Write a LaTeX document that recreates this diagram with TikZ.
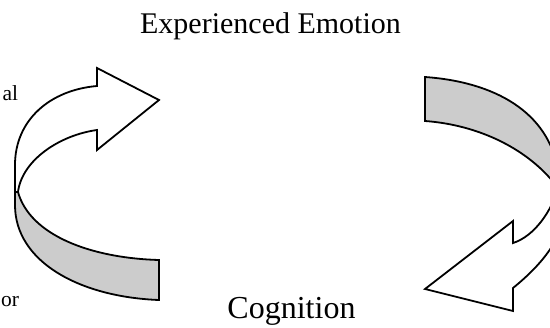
\documentclass[tikz,border=0pt]{standalone}
\usepackage{fontspec}
\setmainfont{Liberation Serif}
\definecolor{bandgrey}{RGB}{204,204,204}
\begin{document}
\begin{tikzpicture}[
        x=0.5pt, y=-0.5pt,
        title/.style={font=\fontsize{15}{18}\selectfont, inner sep=0pt, anchor=base},
        side/.style={font=\fontsize{10.75}{13}\selectfont, inner sep=0pt, anchor=base east},
        front/.style={draw, line width=0.9pt, fill=white},
        back/.style={draw, line width=0.9pt, fill=bandgrey}
    ]
        \useasboundingbox (0,0) rectangle (550,327);
        \clip (0,0) rectangle (550,327);

        % Labels
        \node[title] (emotion) at (270.5,33) {Experienced Emotion};
        \node[title, font=\fontsize{16}{19}\selectfont] (cognition) at (291.5,318) {Cognition};
        \node[side] (upper) at (18.5,100.5) {al};
        \node[side] (lower) at (19.5,306) {or};

        % Left arrow
        \draw[front] (97,86) -- (97,68) -- (159,100) -- (97,150) -- (97,130)
            .. controls (60,135) and (22,160) .. (18,192) -- (15,192) -- (15,165)
            .. controls (15,120) and (50,90) .. (97,86) -- cycle;
        \draw[back] (18,192) .. controls (30,235) and (90,258) .. (159,260) -- (159,300)
            .. controls (80,297) and (15,262) .. (15,205) -- (15,192) -- cycle;

        % Right arrow
        \draw[back] (425,77) .. controls (495,82) and (548,112) .. (558,170) -- (558,188)
            .. controls (530,150) and (480,125) .. (425,121) -- cycle;
        \draw[front] (513,243) -- (513,221) -- (425,289) -- (513,311) -- (513,288)
            .. controls (545,262) and (565,235) .. (568,200) -- (568,188) -- (558,188)
            .. controls (552,210) and (535,236) .. (513,243) -- cycle;
    \end{tikzpicture}
\end{document}
